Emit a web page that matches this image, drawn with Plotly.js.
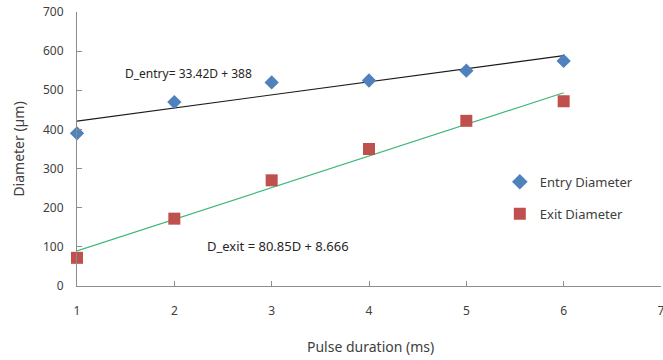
<!DOCTYPE html>
<html>
<head>
<meta charset="utf-8">
<script src="https://cdn.plot.ly/plotly-3.0.1.min.js"></script>
<style>
  html, body { margin: 0; padding: 0; background: #fff; }
  #chart { width: 663px; height: 360px; }
</style>
</head>
<body>
<div id="chart"></div>
<script>
// Pulse duration (ms)
const pulseDuration = [1, 2, 3, 4, 5, 6];
// Measured hole diameters (µm)
const entryDiameter = [390, 470, 520, 525, 550, 575];
const exitDiameter = [72, 172, 270, 350, 422, 472];
// Linear fits: D = slope * t + intercept
const entryFit = { slope: 33.42, intercept: 388 };
const exitFit = { slope: 80.85, intercept: 8.666 };
const fitSpan = [1, 6];

const fitLine = (fit) => fitSpan.map(t => fit.slope * t + fit.intercept);

const font = "'Noto Sans', 'Open Sans', sans-serif";
const axisGrey = '#8c8c8c';
const textGrey = '#404040';

const traces = [
  {
    x: fitSpan, y: fitLine(entryFit), mode: 'lines', showlegend: false,
    line: { color: '#1a1a1a', width: 1.2 }, hoverinfo: 'skip', cliponaxis: false
  },
  {
    x: fitSpan, y: fitLine(exitFit), mode: 'lines', showlegend: false,
    line: { color: '#3cb878', width: 1.2 }, hoverinfo: 'skip', cliponaxis: false
  },
  {
    x: pulseDuration, y: entryDiameter, mode: 'markers', name: 'Entry Diameter',
    legendgroup: 'entry', cliponaxis: false,
    marker: { symbol: 'diamond', size: 11, color: '#4f81bd' }
  },
  {
    x: pulseDuration, y: exitDiameter, mode: 'markers', name: 'Exit Diameter',
    legendgroup: 'exit', cliponaxis: false,
    marker: { symbol: 'square', size: 12, color: '#c0504d' }
  }
];

const layout = {
  width: 663, height: 360,
  margin: { l: 77, r: 2, t: 12, b: 74 },
  paper_bgcolor: '#ffffff', plot_bgcolor: '#ffffff',
  font: { family: font, size: 12, color: textGrey },
  showlegend: true,
  legend: {
    x: 0.724, y: 0.435, xanchor: 'left', yanchor: 'top',
    traceorder: 'grouped', tracegroupgap: 12,
    itemsizing: 'constant',
    font: { family: font, size: 13, color: textGrey },
    bgcolor: 'rgba(0,0,0,0)'
  },
  xaxis: {
    range: [1, 7], dtick: 1, tick0: 1,
    showgrid: false, zeroline: false,
    showline: true, linecolor: axisGrey, linewidth: 1,
    ticks: 'inside', ticklen: 5, tickcolor: axisGrey,
    ticklabelstandoff: 14, ticklabeloverflow: 'allow',
    tickfont: { family: font, size: 12, color: textGrey }
  },
  yaxis: {
    range: [0, 700], dtick: 100,
    showgrid: false, zeroline: false,
    showline: true, linecolor: axisGrey, linewidth: 1,
    ticks: 'inside', ticklen: 5, tickcolor: axisGrey,
    ticklabelstandoff: 10,
    tickfont: { family: font, size: 12, color: textGrey },
    title: { text: 'Diameter (µm)', font: { family: font, size: 14, color: textGrey }, standoff: 15 }
  },
  annotations: [
    {
      // x-axis title
      x: 0.502, y: -0.219, xref: 'paper', yref: 'paper',
      xanchor: 'center', yanchor: 'middle', showarrow: false,
      text: 'Pulse duration (ms)',
      font: { family: font, size: 14, color: textGrey }
    },
    {
      x: 2.15, y: 543, xref: 'x', yref: 'y', showarrow: false,
      text: 'D_entry= 33.42D + 388',
      font: { family: font, size: 12, color: '#262626' }
    },
    {
      x: 3.07, y: 103, xref: 'x', yref: 'y', showarrow: false,
      text: 'D_exit = 80.85D + 8.666',
      font: { family: font, size: 13, color: '#262626' }
    }
  ]
};

Plotly.newPlot('chart', traces, layout, { displayModeBar: false, staticPlot: true });
</script>
</body>
</html>
